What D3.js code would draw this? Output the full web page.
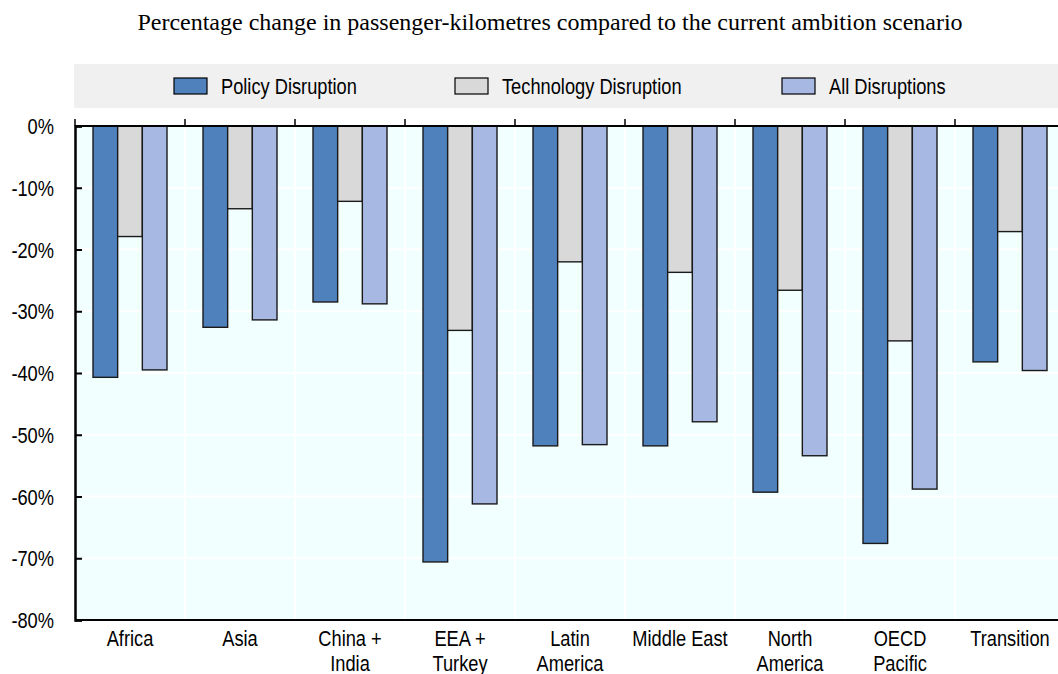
<!DOCTYPE html>
<html>
<head>
<meta charset="utf-8">
<script src="https://cdn.jsdelivr.net/npm/d3@7"></script>
<style>
  body { margin: 0; background: #fff; }
  svg text { font-family: "Liberation Sans", Arial, sans-serif; }
</style>
</head>
<body>
<div id="container"></div>
<script>
// chart size
var width = 1058;
var height = 674;
var narrow = 0.83;   // squeeze Liberation Sans to look like Arial Narrow

//-----------------------------DATA------------------------------//
var regions = ["Africa", "Asia", "China +\nIndia", "EEA +\nTurkey", "Latin\nAmerica", "Middle East", "North\nAmerica", "OECD\nPacific", "Transition"];
var seriesNames = ["Policy Disruption", "Technology Disruption", "All Disruptions"];
var policy = [-40.7, -32.6, -28.5, -70.6, -51.8, -51.8, -59.3, -67.6, -38.2];
var technology = [-17.9, -13.4, -12.2, -33.1, -22.0, -23.7, -26.6, -34.8, -17.1];
var allDisr = [-39.5, -31.4, -28.8, -61.2, -51.6, -47.9, -53.4, -58.8, -39.6];
var yTicks = [0, -10, -20, -30, -40, -50, -60, -70, -80];
var colors = ["#4F81BD", "#D9D9D9", "#A7B9E3"];

var svg = d3.select("div#container").append("svg")
    .attr("width", width)
    .attr("height", height);

//----------------------------SCALES-----------------------------//
var plotLeft = 75, plotRight = 1065, plotTop = 126, plotBottom = 620;

var xScale = d3.scaleBand().domain(regions).range([plotLeft, plotRight]).padding(0);
var xInner = d3.scaleBand().domain(seriesNames).range([18, 92]).padding(0);
var yScale = d3.scaleLinear().domain([0, -80]).range([plotTop, plotBottom]);

var slices = seriesNames.map(function (s, i) {
    var vals = [policy, technology, allDisr][i];
    return { name: s, color: colors[i], values: regions.map(function (r, j) { return { region: r, value: vals[j] }; }) };
});

//----------------------------TITLE-----------------------------//
svg.append("text")
    .attr("x", 550)
    .attr("y", 30)
    .attr("text-anchor", "middle")
    .style("font-family", "'Liberation Serif', 'Times New Roman', serif")
    .style("font-size", "24px")
    .style("fill", "#000")
    .text("Percentage change in passenger-kilometres compared to the current ambition scenario");

//----------------------------LEGEND-----------------------------//
svg.append("rect")
    .attr("x", plotLeft - 1)
    .attr("y", 64)
    .attr("width", width - plotLeft + 1)
    .attr("height", 44)
    .style("fill", "#F0F0F0");

var legendX = [174, 455, 782];
var legend = svg.selectAll(".legend")
    .data(slices)
    .enter().append("g")
    .attr("transform", function (d, i) { return "translate(" + legendX[i] + ",78)"; });

legend.append("rect")
    .attr("width", 33)
    .attr("height", 16)
    .style("fill", function (d) { return d.color; })
    .style("stroke", "#000")
    .style("stroke-width", 1.2);

legend.append("text")
    .attr("transform", "translate(47,15.5) scale(" + narrow + ",1)")
    .style("font-size", "22px")
    .style("fill", "#000")
    .text(function (d) { return d.name; });

//----------------------------PLOT AREA-----------------------------//
svg.append("rect")
    .attr("x", plotLeft)
    .attr("y", plotTop)
    .attr("width", plotRight - plotLeft)
    .attr("height", plotBottom - plotTop)
    .style("fill", "#F2FFFF");

// horizontal grid
svg.append("g").selectAll("line")
    .data(yTicks.slice(1, -1))
    .enter().append("line")
    .attr("x1", plotLeft)
    .attr("x2", plotRight)
    .attr("y1", function (d) { return yScale(d); })
    .attr("y2", function (d) { return yScale(d); })
    .style("stroke", "#fff")
    .style("stroke-width", 2);

// vertical grid at category boundaries
svg.append("g").selectAll("line")
    .data(regions.slice(1))
    .enter().append("line")
    .attr("x1", function (d) { return xScale(d); })
    .attr("x2", function (d) { return xScale(d); })
    .attr("y1", plotTop)
    .attr("y2", plotBottom)
    .style("stroke", "#fff")
    .style("stroke-width", 2);

//----------------------------BARS-----------------------------//
var groups = svg.selectAll(".series")
    .data(slices)
    .enter().append("g")
    .style("fill", function (d) { return d.color; });

groups.selectAll("rect")
    .data(function (d) { return d.values.map(function (v) { return { region: v.region, value: v.value, name: d.name }; }); })
    .enter().append("rect")
    .attr("x", function (d) { return xScale(d.region) + xInner(d.name); })
    .attr("y", yScale(0))
    .attr("width", xInner.bandwidth())
    .attr("height", function (d) { return yScale(d.value) - yScale(0); })
    .style("stroke", "#1a1a1a")
    .style("stroke-width", 1.4);

//-----------------------------AXES------------------------------//
// top axis (0% line) with ticks at category boundaries pointing up
svg.append("line")
    .attr("x1", plotLeft).attr("x2", plotRight)
    .attr("y1", yScale(0)).attr("y2", yScale(0))
    .style("stroke", "#000").style("stroke-width", 2);

svg.append("g").selectAll("line")
    .data(regions)
    .enter().append("line")
    .attr("x1", function (d) { return xScale(d); })
    .attr("x2", function (d) { return xScale(d); })
    .attr("y1", yScale(0) - 7)
    .attr("y2", yScale(0))
    .style("stroke", "#000")
    .style("stroke-width", 1.5);

// bottom axis line
svg.append("line")
    .attr("x1", plotLeft).attr("x2", plotRight)
    .attr("y1", plotBottom).attr("y2", plotBottom)
    .style("stroke", "#000").style("stroke-width", 2);

// y axis
var yaxis = d3.axisRight(yScale)
    .tickValues(yTicks)
    .tickSize(7)
    .tickFormat(function (d) { return d + "%"; });

var yg = svg.append("g")
    .attr("transform", "translate(" + plotLeft + ",0)")
    .call(yaxis);
yg.select(".domain").style("stroke", "#000").style("stroke-width", 2.5);
yg.selectAll(".tick line").style("stroke", "#000").style("stroke-width", 2);
yg.selectAll(".tick text")
    .attr("x", 0)
    .attr("dy", "0.35em")
    .attr("transform", "translate(-21,0) scale(" + narrow + ",1)")
    .style("text-anchor", "end")
    .style("font-size", "22px")
    .style("fill", "#000")
    .style("font-family", "'Liberation Sans', Arial, sans-serif");

// category labels
var catLabels = svg.append("g").selectAll("text")
    .data(regions)
    .enter().append("text")
    .attr("transform", function (d) {
        return "translate(" + (xScale(d) + xScale.bandwidth() / 2) + ",646) scale(" + narrow + ",1)";
    })
    .attr("text-anchor", "middle")
    .style("font-size", "22px")
    .style("fill", "#000");

catLabels.selectAll("tspan")
    .data(function (d) { return d.split("\n"); })
    .enter().append("tspan")
    .attr("x", 0)
    .attr("dy", function (d, i) { return i === 0 ? 0 : 25; })
    .text(function (d) { return d; });
</script>
</body>
</html>
